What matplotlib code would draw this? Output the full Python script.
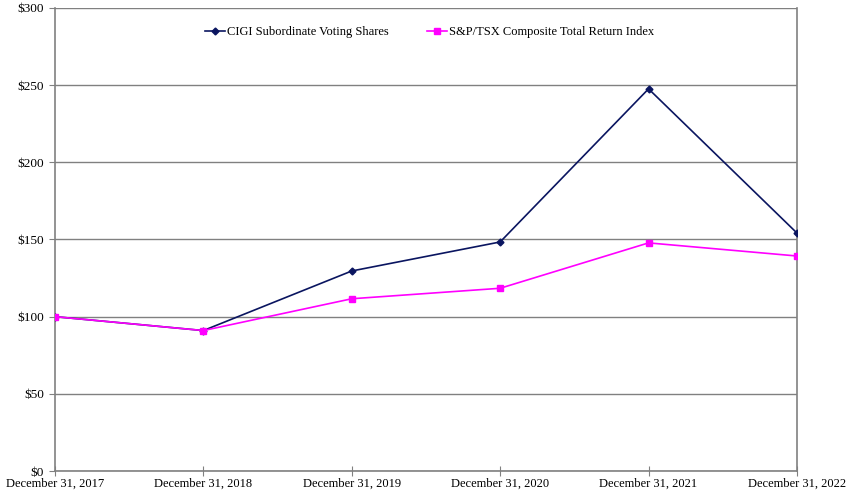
import matplotlib
matplotlib.use('Agg')
import matplotlib.pyplot as plt

plt.rcParams['font.family'] = ['Liberation Serif', 'DejaVu Serif']

# Dados
datas = ['December 31, 2017', 'December 31, 2018', 'December 31, 2019',
         'December 31, 2020', 'December 31, 2021', 'December 31, 2022']
cigi = [100, 91, 129.6, 148.4, 247.6, 154.2]
tsx = [100, 91, 111.6, 118.4, 147.8, 139.3]
yticks = [0, 50, 100, 150, 200, 250, 300]

fig = plt.figure(figsize=(8.47, 4.96), dpi=100)
ax = fig.add_axes([0.0649, 0.0504, 0.876, 0.9335])

x = list(range(len(datas)))
ax.plot(x, cigi, color='#0a1560', marker='D', markersize=3.5, linewidth=1.2,
        label='CIGI Subordinate Voting Shares', zorder=3)
ax.plot(x, tsx, color='#ff00ff', marker='s', markersize=5, linewidth=1.2,
        label='S&P/TSX Composite Total Return Index', zorder=3)

ax.set_xlim(0, len(datas) - 1)
ax.set_ylim(0, 300)
ax.set_yticks(yticks)
ax.set_yticklabels([f'${v}' for v in yticks], fontsize=9.5)
ax.set_xticks(x)
ax.set_xticklabels(datas, fontsize=9)
ax.xaxis.set_ticks_position('bottom')
ax.tick_params(axis='x', direction='inout', length=7, color='#808080', pad=1)
ax.tick_params(axis='y', direction='out', length=4, color='#808080', pad=4)
ax.grid(axis='y', color='#808080', linewidth=1.0)
ax.set_axisbelow(True)
for lado in ['left', 'right', 'bottom']:
    ax.spines[lado].set_color('#808080')
    ax.spines[lado].set_linewidth(1.2)
ax.spines['top'].set_visible(False)

ax.legend(loc='upper center', bbox_to_anchor=(0.505, 0.985), ncol=2, frameon=False,
          fontsize=9, handlelength=1.6, handletextpad=0.2, columnspacing=3.0)

fig.savefig('out.png', dpi=100)
